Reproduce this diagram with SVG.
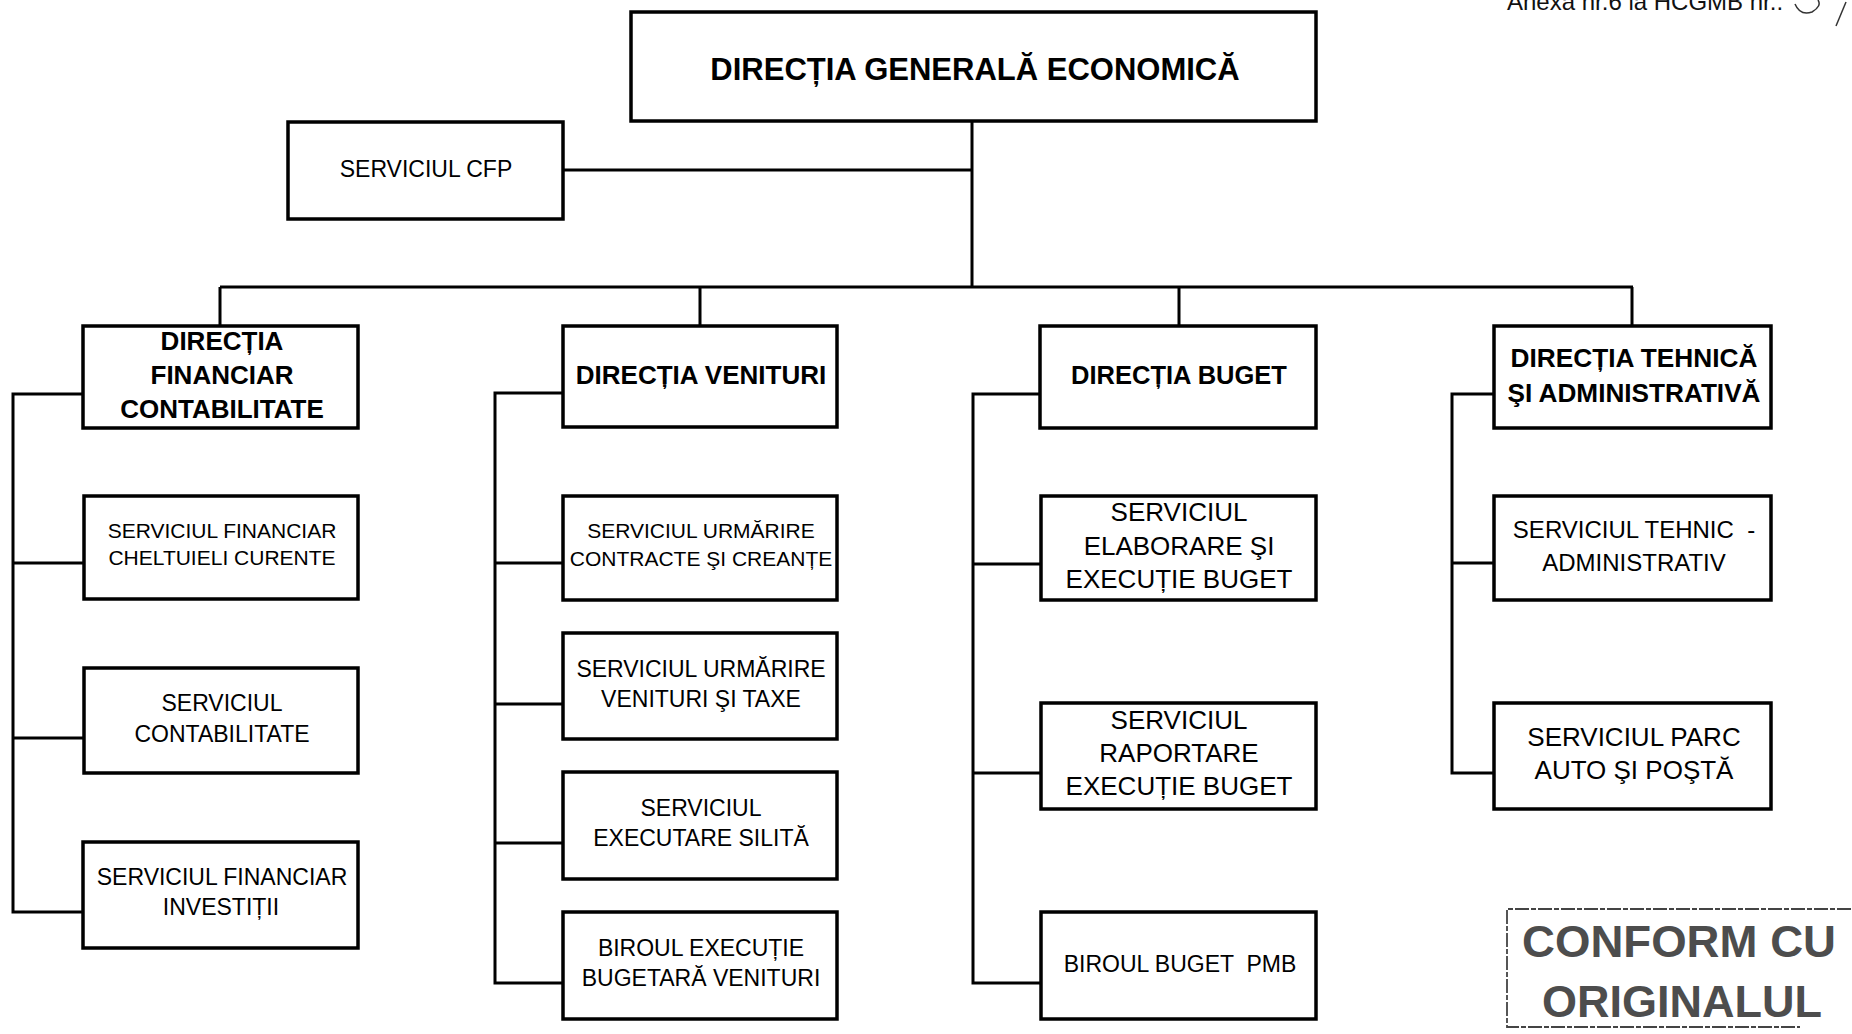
<svg xmlns="http://www.w3.org/2000/svg" width="1852" height="1034" viewBox="0 0 1852 1034">
<style>
.box{fill:#fff;stroke:#000;stroke-width:3.5}
.t{font-family:"Liberation Sans",Arial,sans-serif;fill:#000;text-anchor:middle}
.b{font-weight:bold}
.c{fill:none;stroke:#000;stroke-width:3;stroke-linejoin:miter}
.stamp{font-family:"Liberation Sans",Arial,sans-serif;font-weight:bold;fill:#4d4d4d}
</style>
<rect width="1852" height="1034" fill="#fff"/>
<text x="1507" y="10" style="font-family:'Liberation Sans',Arial,sans-serif;font-size:24px;fill:#111">Anexa nr.6 la HCGMB nr..</text>
<path d="M1795,4 Q1800,16 1812,12 Q1822,6 1818,0" fill="none" stroke="#333" stroke-width="1.5"/>
<path d="M1846,2 L1836,26" fill="none" stroke="#333" stroke-width="1.5"/>
<g id="connectors" class="c">
<path d="M972,121 V287 M563,170 H972 M220,287 H1633 M220,287 V326 M700,287 V326 M1179,287 V326 M1632,287 V326"/>
<path d="M83,394 H13 V912 H84 M13,563 H84 M13,738 H84"/>
<path d="M563,393 H495 V983 H563 M495,563 H563 M495,704 H563 M495,843 H563"/>
<path d="M1040,394 H973 V983 H1041 M973,564 H1041 M973,773 H1041"/>
<path d="M1494,394 H1452 V773 H1494 M1452,563 H1494"/>
</g>
<g id="dge"><rect class="box" x="631" y="12" width="685" height="109"/><text class="t b" x="975" y="80" font-size="31">DIRECȚIA GENERALĂ ECONOMICĂ</text></g>
<g id="cfp"><rect class="box" x="288" y="122" width="275" height="97"/><text class="t" x="426" y="177" font-size="23">SERVICIUL CFP</text></g>
<g id="dfc"><rect class="box" x="83" y="326" width="275" height="102"/><text class="t b" font-size="26"><tspan x="222" y="350">DIRECȚIA</tspan><tspan x="222" y="384">FINANCIAR</tspan><tspan x="222" y="418">CONTABILITATE</tspan></text></g>
<g id="dv"><rect class="box" x="563" y="326" width="274" height="101"/><text class="t b" x="701" y="384" font-size="26">DIRECȚIA VENITURI</text></g>
<g id="db"><rect class="box" x="1040" y="326" width="276" height="102"/><text class="t b" x="1179" y="384" font-size="25.5">DIRECȚIA BUGET</text></g>
<g id="dta"><rect class="box" x="1494" y="326" width="277" height="102"/><text class="t b" x="1634" y="367" font-size="25" textLength="247" lengthAdjust="spacingAndGlyphs">DIRECȚIA TEHNICĂ</text><text class="t b" x="1634" y="402" font-size="25" textLength="253" lengthAdjust="spacingAndGlyphs">ŞI ADMINISTRATIVĂ</text></g>
<g id="sfcc"><rect class="box" x="84" y="496" width="274" height="103"/><text class="t" font-size="21"><tspan x="222" y="538">SERVICIUL FINANCIAR</tspan><tspan x="222" y="565">CHELTUIELI CURENTE</tspan></text></g>
<g id="sc"><rect class="box" x="84" y="668" width="274" height="105"/><text class="t" font-size="23"><tspan x="222" y="711">SERVICIUL</tspan><tspan x="222" y="742">CONTABILITATE</tspan></text></g>
<g id="sfi"><rect class="box" x="83" y="842" width="275" height="106"/><text class="t" font-size="23"><tspan x="222" y="885">SERVICIUL FINANCIAR</tspan><tspan x="221" y="915">INVESTIȚII</tspan></text></g>
<g id="succ"><rect class="box" x="563" y="496" width="274" height="104"/><text class="t" font-size="21"><tspan x="701" y="538">SERVICIUL URMĂRIRE</tspan><tspan x="701" y="566">CONTRACTE ŞI CREANȚE</tspan></text></g>
<g id="suvt"><rect class="box" x="563" y="633" width="274" height="106"/><text class="t" font-size="23"><tspan x="701" y="677">SERVICIUL URMĂRIRE</tspan><tspan x="701" y="707">VENITURI ŞI TAXE</tspan></text></g>
<g id="ses"><rect class="box" x="563" y="772" width="274" height="107"/><text class="t" font-size="23"><tspan x="701" y="816">SERVICIUL</tspan><tspan x="701" y="846">EXECUTARE SILITĂ</tspan></text></g>
<g id="bebv"><rect class="box" x="563" y="912" width="274" height="107"/><text class="t" font-size="23"><tspan x="701" y="956">BIROUL EXECUȚIE</tspan><tspan x="701" y="986">BUGETARĂ VENITURI</tspan></text></g>
<g id="seeb"><rect class="box" x="1041" y="496" width="275" height="104"/><text class="t" font-size="26"><tspan x="1179" y="521">SERVICIUL</tspan><tspan x="1179" y="555">ELABORARE ŞI</tspan><tspan x="1179" y="588">EXECUȚIE BUGET</tspan></text></g>
<g id="sreb"><rect class="box" x="1041" y="703" width="275" height="106"/><text class="t" font-size="26"><tspan x="1179" y="729">SERVICIUL</tspan><tspan x="1179" y="762">RAPORTARE</tspan><tspan x="1179" y="795">EXECUȚIE BUGET</tspan></text></g>
<g id="bbpmb"><rect class="box" x="1041" y="912" width="275" height="107"/><text class="t" x="1180" y="972" font-size="23" xml:space="preserve">BIROUL BUGET  PMB</text></g>
<g id="sta"><rect class="box" x="1494" y="496" width="277" height="104"/><text class="t" font-size="24" xml:space="preserve"><tspan x="1634" y="538">SERVICIUL TEHNIC  -</tspan><tspan x="1634" y="571">ADMINISTRATIV</tspan></text></g>
<g id="spap"><rect class="box" x="1494" y="703" width="277" height="106"/><text class="t" font-size="26"><tspan x="1634" y="746">SERVICIUL PARC</tspan><tspan x="1634" y="779">AUTO ŞI POŞTĂ</tspan></text></g>
<g id="stamp">
<path d="M1851,909 H1507 V1027 H1800" fill="none" stroke="#444" stroke-width="1.8" stroke-dasharray="14 2 5 2"/>
<text class="stamp" x="1522" y="957" font-size="45" textLength="314" lengthAdjust="spacingAndGlyphs">CONFORM CU</text>
<text class="stamp" x="1542" y="1017" font-size="45" textLength="280" lengthAdjust="spacingAndGlyphs">ORIGINALUL</text>
</g>
</svg>
